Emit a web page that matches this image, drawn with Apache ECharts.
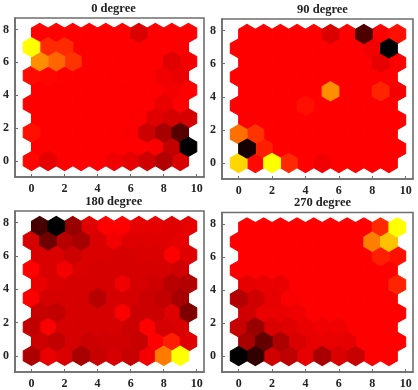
<!DOCTYPE html>
<html><head><meta charset="utf-8">
<style>html,body{margin:0;padding:0;background:#fff}#c{width:418px;height:390px;filter:blur(0.45px)}</style>
<script src="https://cdn.jsdelivr.net/npm/echarts@6/dist/echarts.min.js"></script>
</head><body><div id="c"></div>
<script>
const titles = ['0 degree','90 degree','180 degree','270 degree'];
const xTicks = [0,2,4,6,8,10];
const yTicks = [0,2,4,6,8];
// Each row runs bottom to top; 0 = black, 50 = pure red, 100 = yellow
const panel0 = [
 [51,45,50,50,50,47,45,41,35,43],
 [50,50,50,50,50,50,50,49,38,0],
 [53,50,50,50,50,50,49,40,33,17],
 [50,50,50,50,50,50,49,44,42,42],
 [50,50,50,50,50,50,50,50,46,50],
 [50,50,50,50,50,50,50,50,48,50],
 [52,51,50,50,50,50,50,50,47,46],
 [78,70,60,50,50,50,50,50,44,48],
 [100,58,58,50,50,50,50,50,50,49],
 [50,50,50,50,50,50,43,50,50,50]
];
const panel90 = [
 [92,52,100,58,50,47,50,50,50,50],
 [4,56,50,50,50,50,50,50,50,50],
 [72,60,50,50,50,50,50,50,50,50],
 [49,50,50,50,50,50,50,50,50,50],
 [50,50,50,50,53,50,50,50,50,50],
 [50,50,50,50,50,78,50,50,57,48],
 [50,50,50,50,50,50,50,50,50,50],
 [50,50,50,50,50,50,50,50,45,50],
 [50,50,50,50,50,50,50,50,47,0],
 [50,50,50,50,50,43,50,15,50,53]
];
const panel180 = [
 [34,46,43,33,39,42,39,48,74,100],
 [40,38,42,40,41,41,39,50,56,44],
 [38,49,42,42,42,42,40,50,42,43],
 [39,38,42,42,42,49,40,40,44,25],
 [49,42,42,42,36,42,42,40,38,33],
 [46,43,42,42,42,47,42,41,36,35],
 [50,43,48,43,42,42,42,42,42,41],
 [43,43,40,43,43,42,43,43,50,44],
 [42,22,36,33,43,48,44,44,44,45],
 [14,0,30,44,50,50,45,45,44,45]
];
const panel270 = [
 [0,10,41,37,45,33,43,39,50,50],
 [33,20,34,43,45,45,45,50,50,50],
 [39,30,43,44,46,47,47,50,50,50],
 [41,46,46,47,50,50,50,50,50,50],
 [35,41,45,49,50,50,50,50,50,50],
 [45,46,46,50,50,50,50,50,50,57],
 [50,50,50,50,50,50,50,50,50,50],
 [50,50,50,50,50,50,50,50,56,53],
 [50,50,50,50,50,50,50,50,75,88],
 [50,50,50,50,50,50,50,50,58,100]
];
const panels = [panel0,panel90,panel180,panel270];
const frames = [
 {left:13,top:18,width:191,height:159},
 {left:222,top:19,width:191,height:160},
 {left:13.5,top:211,width:190.5,height:161},
 {left:222,top:212.5,width:191,height:160.5}
];
const rowStep = Math.sqrt(3)/2, R = 1/Math.sqrt(3);
function color(v){
  const r = v<50 ? Math.round(255*v/50) : 255;
  const g = v>50 ? Math.round(255*(v-50)/50) : 0;
  return `rgb(${r},${g},0)`;
}
function cells(m){
  const out=[];
  m.forEach((row,k)=>row.forEach((v,c)=>out.push([c+(k%2?0.5:0),k*rowStep,v])));
  // strongest colours are painted last so their outline stays whole
  return out.sort((a,b)=>Math.abs(a[2]-50)-Math.abs(b[2]-50));
}
function renderHex(p,api){
  const x=api.value(0),y=api.value(1),v=api.value(2);
  const pts=[[0,R],[.5,R/2],[.5,-R/2],[0,-R],[-.5,-R/2],[-.5,R/2]].map(d=>api.coord([x+d[0],y+d[1]]));
  const col=color(v);
  return {type:'polygon',shape:{points:pts},style:{fill:col,stroke:col,lineWidth:1.1,lineJoin:'miter'}};
}
const font={fontFamily:'Liberation Serif',fontWeight:'bold',fontSize:12,color:'#222'};
const axisCommon=(ticks)=>({
  axisLine:{show:true,onZero:false,lineStyle:{color:'#6e6e6e',width:1.6}},
  axisTick:{show:true,inside:true,length:3,lineStyle:{color:'#6e6e6e',width:1},customValues:ticks},
  axisLabel:Object.assign({margin:6,customValues:ticks},font),
  splitLine:{show:false}
});
const option={
  animation:false,backgroundColor:'#fff',
  title:titles.map((t,i)=>({text:t,left:frames[i].left+frames[i].width/2,top:frames[i].top-21,textAlign:'center',
    textStyle:{fontFamily:'Liberation Serif',fontWeight:'bold',fontSize:12.5,color:'#222'}})),
  grid:frames.map(f=>Object.assign({show:true,borderColor:'#6e6e6e',borderWidth:1.6,backgroundColor:'#fff'},f)),
  xAxis:frames.map((f,i)=>Object.assign({type:'value',gridIndex:i,min:-1,max:10.44},axisCommon(xTicks))),
  yAxis:frames.map((f,i)=>Object.assign({type:'value',gridIndex:i,min:-0.97,max:8.7},axisCommon(yTicks))),
  series:panels.map((m,i)=>({type:'custom',xAxisIndex:i,yAxisIndex:i,coordinateSystem:'cartesian2d',
    data:cells(m),renderItem:renderHex,silent:true,clip:true}))
};
echarts.init(document.getElementById('c'),null,{renderer:'canvas'}).setOption(option);
</script></body></html>
